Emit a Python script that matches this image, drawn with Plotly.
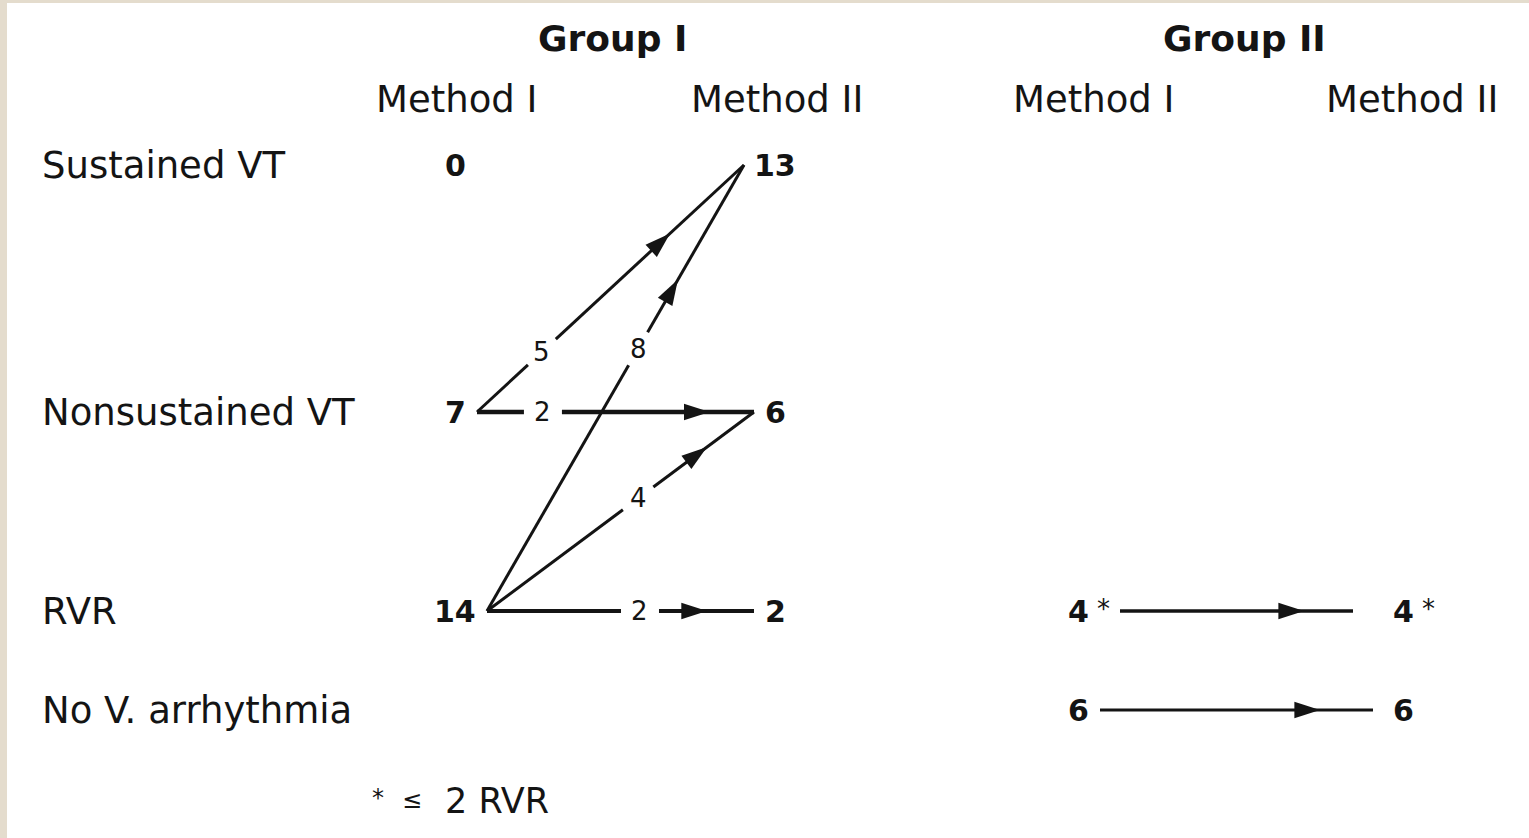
import math
import plotly.graph_objects as go

# ---------------- data ----------------
row_labels = ["Sustained VT", "Nonsustained VT", "RVR", "No V. arrhythmia"]
group_labels = ["Group I", "Group II"]
column_labels = ["Method I", "Method II", "Method I", "Method II"]
# patient counts per column, in row order (None = empty cell)
g1_method1 = [0, 7, 14, None]
g1_method2 = [13, 6, 2, None]
g2_method1 = [None, None, 4, 6]
g2_method2 = [None, None, 4, 6]
starred = [False, False, True, False]          # "*" marks rows with <= 2 RVR (Group II)
# transitions Method I -> Method II
edge_src_col = [0, 0, 0, 0, 0, 2, 2]
edge_src_row = [1, 1, 2, 2, 2, 2, 3]
edge_dst_col = [1, 1, 1, 1, 1, 3, 3]
edge_dst_row = [0, 1, 0, 1, 2, 2, 3]
edge_count = [5, 2, 8, 4, 2, None, None]
footnote_parts = ["*", "\u2264", "2 RVR"]

# ---------------- layout / style ----------------
W, H = 1529, 838
INK = "#141414"
FONT = "DejaVu Sans"
ROW_Y = [165, 412, 611, 710]
ROW_LABEL_X = 40
COL_NUM_X = [455, 775, 1078, 1403]
COL_HEAD_X = [456, 777, 1093, 1412]
GROUP_X = [612, 1244]
GROUP_Y, HEAD_Y = 38, 99
LABEL_T = [0.243, 0.238, 0.588, 0.566, 0.573, None, None]
ARROW_T = [0.723, 0.84, 0.743, 0.824, 0.824, 0.79, 0.806]
EDGE_W = [3, 4.5, 3, 3, 4, 3.5, 3]
TARGET_GAP = {1: 11, 3: 20}
SOURCE_GAP = 12
LABEL_HALF_GAP = 19

columns = [g1_method1, g1_method2, g2_method1, g2_method2]
col_star = [False, False, True, True]


def half_width(col, row):
    v = columns[col][row]
    w = 10 * len(str(v))
    if col_star[col] and starred[row]:
        w += 20
    return w


fig = go.Figure()
ann = []

# group titles and column headers
for gx, g in zip(GROUP_X, group_labels):
    ann.append(dict(x=gx, y=GROUP_Y, text=g, font=dict(family=FONT, size=36, color=INK, weight="bold")))
for hx, c in zip(COL_HEAD_X, column_labels):
    ann.append(dict(x=hx, y=HEAD_Y, text=c, font=dict(family=FONT, size=37, color=INK)))
# row labels
for ry, r in zip(ROW_Y, row_labels):
    ann.append(dict(x=ROW_LABEL_X, y=ry, text=r, xanchor="left", font=dict(family=FONT, size=37, color=INK)))
# node counts
for ci, col in enumerate(columns):
    for ri, v in enumerate(col):
        if v is None:
            continue
        ann.append(dict(x=COL_NUM_X[ci], y=ROW_Y[ri], text=str(v),
                        font=dict(family=FONT, size=30, color=INK, weight="bold")))
        if col_star[ci] and starred[ri]:
            ann.append(dict(x=COL_NUM_X[ci] + 25, y=ROW_Y[ri] - 2, text="*",
                            font=dict(family=FONT, size=26, color=INK)))

# edges
ax_, ay_, aang = [], [], []
for i in range(len(edge_count)):
    sc, sr, dc, dr = edge_src_col[i], edge_src_row[i], edge_dst_col[i], edge_dst_row[i]
    x0 = COL_NUM_X[sc] + half_width(sc, sr) + SOURCE_GAP
    y0 = ROW_Y[sr]
    x1 = COL_NUM_X[dc] - half_width(dc, dr) - TARGET_GAP[dc]
    y1 = ROW_Y[dr]
    dx, dy = x1 - x0, y1 - y0
    L = math.hypot(dx, dy)
    ux, uy = dx / L, dy / L
    if edge_count[i] is not None:
        t = LABEL_T[i]
        lx, ly = x0 + t * dx, y0 + t * dy
        xs = [x0, lx - LABEL_HALF_GAP * ux, None, lx + LABEL_HALF_GAP * ux, x1]
        ys = [y0, ly - LABEL_HALF_GAP * uy, None, ly + LABEL_HALF_GAP * uy, y1]
        ann.append(dict(x=lx, y=ly, text=str(edge_count[i]),
                        font=dict(family=FONT, size=26, color=INK)))
    else:
        xs, ys = [x0, x1], [y0, y1]
    fig.add_trace(go.Scatter(x=xs, y=ys, mode="lines", line=dict(color=INK, width=EDGE_W[i]),
                             hoverinfo="skip", connectgaps=False))
    ta = ARROW_T[i]
    ax_.append(x0 + ta * dx)
    ay_.append(y0 + ta * dy)
    aang.append(math.degrees(math.atan2(dx, -dy)))

fig.add_trace(go.Scatter(x=ax_, y=ay_, mode="markers", hoverinfo="skip",
                         marker=dict(symbol="arrow", size=27, angle=aang, color=INK,
                                     line=dict(width=0))))

# footnote
ann.append(dict(x=378, y=798, text=footnote_parts[0], font=dict(family=FONT, size=24, color=INK)))
ann.append(dict(x=412, y=800, text=footnote_parts[1], font=dict(family=FONT, size=24, color=INK)))
ann.append(dict(x=443, y=801, text=footnote_parts[2], xanchor="left", font=dict(family=FONT, size=35, color=INK)))

for a in ann:
    a.setdefault("xanchor", "center")
    a.setdefault("yanchor", "middle")
    a["showarrow"] = False
    a["xref"] = "x"
    a["yref"] = "y"

fig.update_layout(
    width=W, height=H,
    margin=dict(l=7, r=0, t=3, b=0, pad=0),
    paper_bgcolor="#e4dccd",
    plot_bgcolor="white",
    showlegend=False,
    annotations=ann,
    xaxis=dict(range=[7, W], visible=False, fixedrange=True),
    yaxis=dict(range=[H, 3], visible=False, fixedrange=True),
)

fig.write_html("out.html", config={"displayModeBar": False},
               post_script="document.body.style.margin='0';document.body.style.overflow='hidden';")
